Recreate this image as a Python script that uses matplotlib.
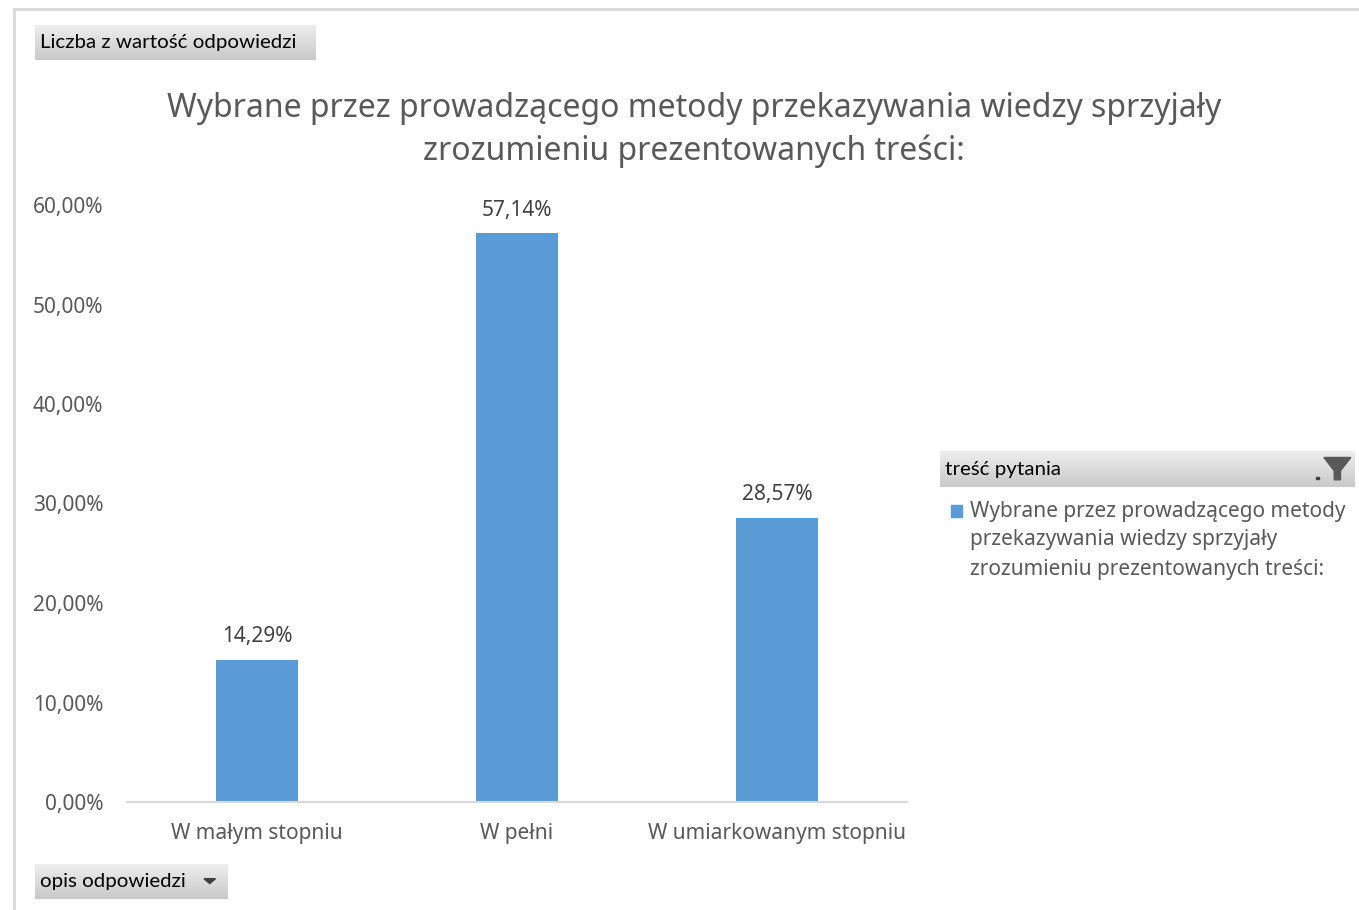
import matplotlib
matplotlib.use("Agg")
import matplotlib.pyplot as plt
import numpy as np
from matplotlib.patches import Rectangle, Polygon
from matplotlib.ticker import FuncFormatter

categories = ["W małym stopniu", "W pełni", "W umiarkowanym stopniu"]
values = [0.1429, 0.5714, 0.2857]
value_labels = ["14,29%", "57,14%", "28,57%"]
yticks = [0.0, 0.1, 0.2, 0.3, 0.4, 0.5, 0.6]

title = ("Wybrane przez prowadzącego metody przekazywania wiedzy sprzyjały\n"
         "zrozumieniu prezentowanych treści:")
legend_lines = ["Wybrane przez prowadzącego metody",
                "przekazywania wiedzy sprzyjały",
                "zrozumieniu prezentowanych treści:"]

W, H = 1359, 910
BLUE = "#5B9BD5"
GRAY = "#595959"
MAIN_FONT = ["Noto Sans", "DejaVu Sans"]
BTN_FONT = ["Lato", "DejaVu Sans"]


def fx(x):
    return x / W


def fy(y):
    return 1 - y / H


def pc_fmt(v, pos):
    return ("%.2f%%" % (v * 100)).replace(".", ",")


def gray_button(fig, x0, y0, x1, y1):
    # gradient box, pixel coords from top-left
    bax = fig.add_axes([fx(x0), fy(y1), fx(x1 - x0), (y1 - y0) / H])
    grad = np.linspace(0, 1, 50).reshape(-1, 1)
    bax.imshow(grad, aspect="auto", cmap=matplotlib.colors.LinearSegmentedColormap.from_list(
        "g", ["#eeeeee", "#c9c9c9"]), extent=[0, 1, 0, 1], origin="upper")
    bax.set_xlim(0, 1)
    bax.set_ylim(0, 1)
    bax.axis("off")
    return bax


fig = plt.figure(figsize=(W / 100, H / 100), dpi=100)
fig.patch.set_facecolor("white")

# outer frame lines (left and top)
fig.add_artist(plt.Line2D([fx(14), fx(14)], [fy(9), 0], color="#d9d9d9", lw=2))
fig.add_artist(plt.Line2D([fx(14), 1], [fy(9), fy(9)], color="#d9d9d9", lw=2))

ax = fig.add_axes([fx(127), fy(802), fx(907 - 127), (802 - 205) / H])
x = np.arange(len(categories))
bars = ax.bar(x, values, width=0.315, color=BLUE, zorder=2)
ax.set_xlim(-0.5, len(categories) - 0.5)
ax.set_ylim(0, 0.6)
ax.set_yticks(yticks)
ax.yaxis.set_major_formatter(FuncFormatter(pc_fmt))
ax.set_xticks(x)
ax.set_xticklabels(categories)
for s in ["top", "right", "left"]:
    ax.spines[s].set_visible(False)
ax.spines["bottom"].set_color("#d9d9d9")
ax.spines["bottom"].set_linewidth(1.5)
ax.tick_params(length=0, labelsize=15, labelcolor=GRAY)
ax.tick_params(axis="y", pad=17)
ax.tick_params(axis="x", pad=15)
for lab in ax.get_xticklabels() + ax.get_yticklabels():
    lab.set_family(MAIN_FONT)

for b, lbl in zip(bars, value_labels):
    ax.annotate(lbl, (b.get_x() + b.get_width() / 2, b.get_height()),
                xytext=(0, 9), textcoords="offset points", ha="center", va="bottom",
                fontsize=15, color="#404040", family=MAIN_FONT)

fig.text(fx(694), fy(130), title, ha="center", va="center", fontsize=23,
         color=GRAY, family=MAIN_FONT, linespacing=1.4)

# pivot field buttons
b1 = gray_button(fig, 35, 25, 316, 60)
b1.text(0.018, 0.5, "Liczba z wartość odpowiedzi", ha="left", va="center",
        fontsize=14.75, color="black", family=BTN_FONT)
b2 = gray_button(fig, 35, 864, 227, 899)
b2.text(0.026, 0.5, "opis odpowiedzi", ha="left", va="center",
        fontsize=14.75, color="black", family=BTN_FONT)
b2.add_patch(Polygon([[0.88, 0.58], [0.94, 0.58], [0.91, 0.44]], closed=True, color="#404040"))

# legend header
b3 = gray_button(fig, 940, 451, 1355, 487)
b3.text(0.013, 0.5, "treść pytania", ha="left", va="center",
        fontsize=14.75, color="black", family=BTN_FONT)
b3.add_patch(Polygon([[0.925, 0.82], [0.99, 0.82], [0.965, 0.45], [0.965, 0.2],
                      [0.95, 0.2], [0.95, 0.45]], closed=True, color="#595959"))
b3.add_patch(Rectangle((0.905, 0.22), 0.008, 0.06, color="#404040"))

# legend entry
fig.add_artist(Rectangle((fx(951), fy(517)), fx(11), 12 / H, color=BLUE,
                         transform=fig.transFigure))
for i, line in enumerate(legend_lines):
    fig.text(fx(970), fy(511 + 29 * i), line, ha="left", va="center",
             fontsize=15, color=GRAY, family=MAIN_FONT)

fig.savefig("out.png", dpi=100)
